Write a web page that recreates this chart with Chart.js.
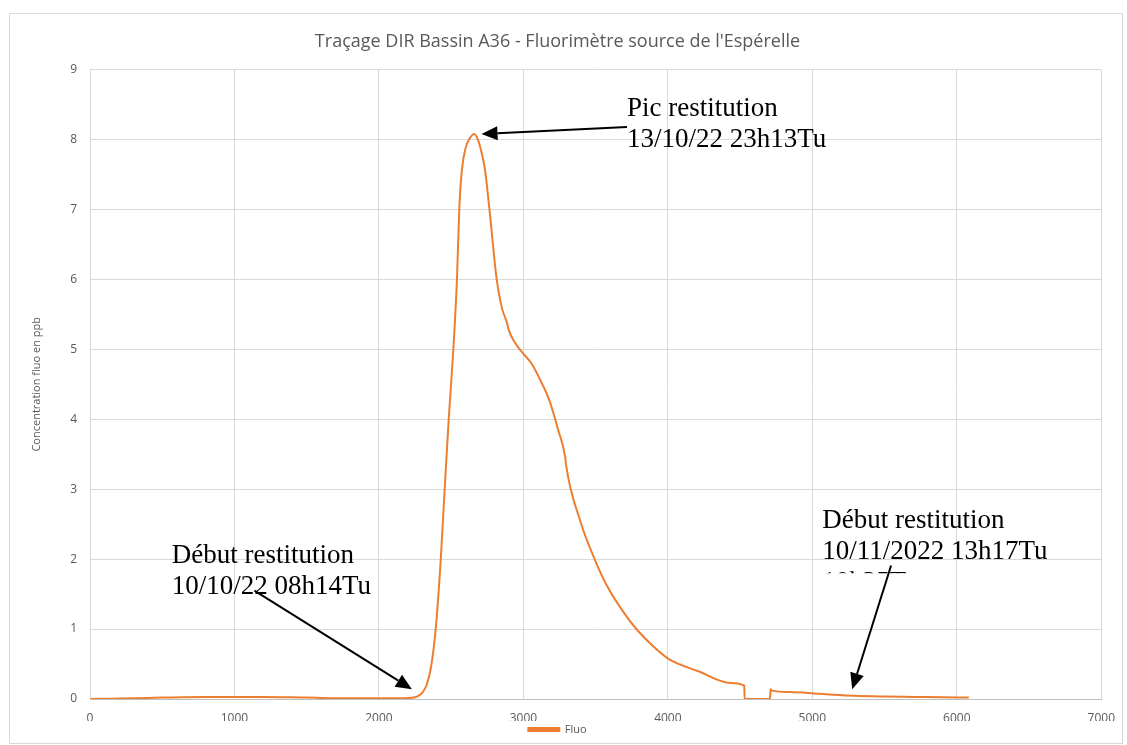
<!DOCTYPE html>
<html>
<head>
<meta charset="utf-8">
<script src="https://cdn.jsdelivr.net/npm/chart.js@4/dist/chart.umd.min.js"></script>
<style>
  html, body { margin: 0; padding: 0; background: #fff; }
  #wrap { width: 1127px; height: 745px; }
</style>
</head>
<body>
<div id="wrap"><canvas id="fluoChart" width="1127" height="745"></canvas></div>
<script>
// --- data (time step vs ppb) ---
const timeSteps = [0, 150, 300, 500, 800, 1000, 1200, 1500, 1800, 2000, 2150, 2240, 2270, 2300, 2330, 2360,
  2393, 2428, 2455, 2483, 2515, 2540, 2556, 2574, 2600, 2630, 2658, 2685, 2712, 2735, 2765, 2815, 2850, 2890, 2895,
  2940, 2986, 3055, 3124, 3180, 3240, 3290, 3295, 3393, 3497, 3586, 3700, 3786, 3900, 4007, 4207, 4435,
  4529, 4531, 4708, 4710, 4720, 4850, 5014, 5150, 5290, 5500, 5700, 5900, 6083];
const fluoValues = [0, 0.005, 0.01, 0.02, 0.03, 0.03, 0.03, 0.02, 0.01, 0.01, 0.01, 0.02, 0.04, 0.09, 0.2, 0.45,
  1.0, 2.0, 3.0, 4.0, 5.0, 6.0, 7.0, 7.56, 7.88, 8.02, 8.08, 8.0, 7.8, 7.56, 7.0, 6.0, 5.6, 5.35, 5.3,
  5.1, 4.97, 4.8, 4.53, 4.27, 3.85, 3.45, 3.35, 2.55, 1.98, 1.59, 1.22, 0.99, 0.75, 0.57, 0.40, 0.23,
  0.19, 0, 0, 0.14, 0.12, 0.1, 0.08, 0.06, 0.045, 0.035, 0.03, 0.025, 0.02];
const xTickValues = [0, 1000, 2000, 3000, 4000, 5000, 6000, 7000];
const yTickValues = [0, 1, 2, 3, 4, 5, 6, 7, 8, 9];

// text callouts, anchored in data units
const notes = [
  { lines: ['Pic restitution', '13/10/22 23h13Tu'], text: [3717, 8.34], tail: [3717, 8.18], head: [2710, 8.08] },
  { lines: ['Début restitution', '10/10/22 08h14Tu'], text: [566, 1.95], tail: [1138, 1.55], head: [2228, 0.14] },
  { lines: ['Début restitution', '10/11/2022 13h17Tu'], text: [5069, 2.44], tail: [5545, 1.91], head: [5276, 0.14], ghost: '10h35Tu' }
];

const GRAY_TXT = '#595959';
const GRID = '#d9d9d9';
const ORANGE = '#ED7D31';

const framePlugin = {
  id: 'frame',
  beforeDraw(chart) {
    const c = chart.ctx;
    c.save();
    c.fillStyle = '#fff';
    c.fillRect(0, 0, chart.width, chart.height);
    c.strokeStyle = GRID;
    c.lineWidth = 1;
    c.strokeRect(9.5, 13.5, 1113, 730);
    c.restore();
  }
};

function drawArrow(c, x1, y1, x2, y2) {
  const ang = Math.atan2(y2 - y1, x2 - x1);
  const len = 16, half = 7;
  const bx = x2 - len * Math.cos(ang), by = y2 - len * Math.sin(ang);
  c.beginPath();
  c.moveTo(x1, y1);
  c.lineTo(bx, by);
  c.stroke();
  c.beginPath();
  c.moveTo(x2, y2);
  c.lineTo(bx + half * Math.sin(ang), by - half * Math.cos(ang));
  c.lineTo(bx - half * Math.sin(ang), by + half * Math.cos(ang));
  c.closePath();
  c.fill();
}

const calloutPlugin = {
  id: 'callouts',
  afterDatasetsDraw(chart) {
    const c = chart.ctx, xs = chart.scales.x, ys = chart.scales.y;
    c.save();
    c.font = '27px "Liberation Serif", "Times New Roman", serif';
    c.fillStyle = '#000';
    c.strokeStyle = '#000';
    c.lineWidth = 2;
    c.textBaseline = 'alphabetic';
    notes.forEach(n => {
      const tx = xs.getPixelForValue(n.text[0]);
      const ty = ys.getPixelForValue(n.text[1]);
      n.lines.forEach((s, i) => c.fillText(s, tx, ty + i * 31));
      if (n.ghost) {
        // third line of the original text box is cut off, only its top shows
        const gy = ty + n.lines.length * 31;
        c.save();
        c.beginPath();
        c.rect(tx, gy - 19, 120, 2);
        c.clip();
        c.fillText(n.ghost, tx, gy);
        c.restore();
      }
      drawArrow(c, xs.getPixelForValue(n.tail[0]), ys.getPixelForValue(n.tail[1]),
        xs.getPixelForValue(n.head[0]), ys.getPixelForValue(n.head[1]));
    });
    c.restore();
  }
};

const ctx = document.getElementById('fluoChart').getContext('2d');

new Chart(ctx, {
  type: 'line',
  data: {
    datasets: [{
      label: 'Fluo',
      data: timeSteps.map((t, i) => ({ x: t, y: fluoValues[i] })),
      borderColor: ORANGE,
      backgroundColor: ORANGE,
      borderWidth: 2,
      pointRadius: 0,
      cubicInterpolationMode: 'monotone',
      fill: false
    }]
  },
  options: {
    responsive: false,
    animation: false,
    layout: { padding: { top: 13, left: 10, right: 22, bottom: 0 } },
    scales: {
      x: {
        type: 'linear',
        min: 0, max: 7000,
        afterBuildTicks: s => { s.ticks = xTickValues.map(v => ({ value: v })); },
        afterFit: s => { s.height = 22; },
        grid: { color: GRID, drawTicks: false },
        border: { color: '#bfbfbf' },
        ticks: { color: GRAY_TXT, padding: 12, font: { family: 'Open Sans', size: 12 }, callback: v => String(v) }
      },
      y: {
        min: 0, max: 9,
        afterBuildTicks: s => { s.ticks = yTickValues.map(v => ({ value: v })); },
        afterFit: s => { s.width = 80; },
        grid: { color: GRID, drawTicks: false },
        border: { color: GRID },
        ticks: { color: GRAY_TXT, padding: 13, font: { family: 'Open Sans', size: 12 } },
        title: {
          display: true,
          text: 'Concentration fluo en ppb',
          color: GRAY_TXT,
          padding: { top: 20, bottom: 0 },
          font: { family: 'Open Sans', size: 11 }
        }
      }
    },
    plugins: {
      title: {
        display: true,
        text: "Traçage DIR Bassin A36 - Fluorimètre source de l'Espérelle",
        color: GRAY_TXT,
        font: { family: 'Open Sans', size: 18, weight: 'normal' },
        padding: { top: 18, bottom: 17 }
      },
      legend: {
        position: 'bottom',
        labels: { boxWidth: 31, boxHeight: 3, padding: 3, color: GRAY_TXT, font: { family: 'Open Sans', size: 11 } }
      },
      tooltip: { enabled: false }
    }
  },
  plugins: [framePlugin, calloutPlugin]
});
</script>
</body>
</html>
